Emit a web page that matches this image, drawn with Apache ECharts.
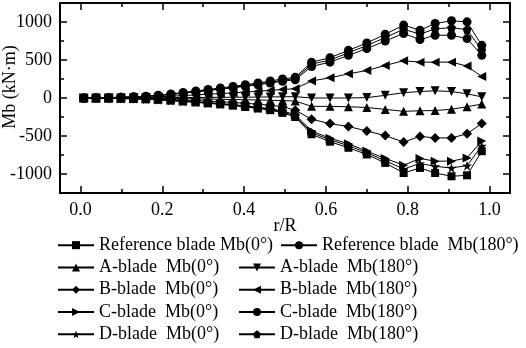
<!DOCTYPE html>
<html>
<head>
<meta charset="utf-8">
<script src="https://cdn.jsdelivr.net/npm/echarts@6/dist/echarts.min.js"></script>
<style>
  html, body { margin: 0; padding: 0; background: #fff; }
  #root { width: 526px; height: 348px; }
</style>
</head>
<body>
<div id="root"></div>
<script>
// r/R positions of the blade sections
const rPos = [0.008, 0.038, 0.069, 0.099, 0.130, 0.160, 0.190, 0.221, 0.251, 0.282, 0.312, 0.342, 0.373, 0.403, 0.434, 0.464, 0.494, 0.525,
  0.565, 0.610, 0.655, 0.700, 0.745, 0.790, 0.830, 0.867, 0.907, 0.945, 0.981];

// Mb (kN·m)
const refMb0 = [0, -2, -4, -7, -11, -16, -24, -34, -46, -58, -70, -84, -100, -118, -138, -160, -195, -250,
  -477, -575, -655, -743, -854, -987, -920, -987, -1030, -1017, -700];
const refMb180 = [0, 3, 6, 10, 16, 24, 36, 52, 72, 92, 112, 132, 152, 175, 198, 224, 250, 272,
  472, 530, 627, 724, 839, 959, 892, 981, 1016, 1002, 693];
const aMb0 = [0, 0, -1, -1, -2, -3, -5, -7, -9, -12, -14, -17, -20, -23, -26, -30, -34, -40,
  -110, -110, -115, -125, -150, -175, -168, -165, -148, -115, -80];
const aMb180 = [0, 0, 1, 1, 2, 3, 4, 5, 6, 7, 8, 9, 10, 11, 12, 14, 16, 18,
  0, 0, 0, 5, 35, 70, 85, 95, 85, 55, 15];
const bMb0 = [0, -1, -2, -4, -6, -9, -14, -20, -27, -34, -42, -50, -60, -70, -82, -96, -115, -160,
  -280, -337, -375, -434, -495, -580, -505, -525, -525, -472, -335];
const bMb180 = [0, 1, 3, 4, 7, 11, 16, 23, 32, 41, 50, 59, 68, 78, 89, 100, 112, 122,
  225, 265, 318, 362, 428, 490, 472, 472, 472, 420, 282];
const cMb0 = [0, -2, -4, -6, -9, -13, -20, -29, -40, -50, -61, -73, -87, -103, -121, -141, -170, -220,
  -434, -530, -602, -699, -796, -884, -796, -831, -831, -788, -566];
const cMb180 = [0, 2, 5, 9, 14, 21, 31, 46, 63, 81, 98, 116, 134, 154, 174, 197, 220, 240,
  415, 472, 561, 650, 750, 849, 769, 826, 826, 782, 561];
const dMb0 = [0, -2, -4, -7, -10, -15, -22, -32, -43, -54, -66, -79, -94, -111, -130, -151, -183, -235,
  -455, -550, -628, -720, -825, -935, -860, -900, -920, -890, -630];
const dMb180 = [0, 3, 5, 9, 15, 22, 33, 48, 67, 85, 104, 122, 141, 162, 184, 208, 232, 255,
  445, 500, 595, 690, 795, 905, 840, 910, 925, 900, 630];

const xMajor = [0, 0.2, 0.4, 0.6, 0.8, 1.0];
const xMinor = [0.1, 0.3, 0.5, 0.7, 0.9];
const yMajor = [-1000, -500, 0, 500, 1000];
const yMinor = [-750, -250, 250, 750];

const FONT = 'Liberation Serif';
const star = 'path://M50,0 L61,35 L98,35 L68,57 L79,91 L50,70 L21,91 L32,57 L2,35 L39,35 Z';
const pentagon = 'path://M50,0 L98,35 L79,91 L21,91 L2,35 Z';

const names = {
  r0: 'Reference blade Mb(0°)', r180: 'Reference blade  Mb(180°)',
  a0: 'A-blade  Mb(0°)', a180: 'A-blade  Mb(180°)',
  b0: 'B-blade  Mb(0°)', b180: 'B-blade  Mb(180°)',
  c0: 'C-blade  Mb(0°)', c180: 'C-blade  Mb(180°)',
  d0: 'D-blade  Mb(0°)', d180: 'D-blade  Mb(180°)'
};

function line(name, vals, symbol, rotate, size) {
  return {
    type: 'line', name: name,
    data: rPos.map((r, i) => [r, vals[i]]),
    symbol: symbol, symbolSize: size || 9, symbolRotate: rotate || 0,
    lineStyle: { color: '#000', width: 1 },
    itemStyle: { color: '#000' },
    z: 3
  };
}

function axis(pos, min, max, ticks, len, opts) {
  return Object.assign({
    type: 'value', position: pos, min: min, max: max,
    axisLine: { show: true, onZero: false, lineStyle: { color: '#000', width: 2 } },
    axisTick: { show: true, inside: true, length: len, customValues: ticks, lineStyle: { color: '#000', width: 1.5 } },
    axisLabel: { show: false },
    splitLine: { show: false }
  }, opts || {});
}

const labelStyle = { fontFamily: FONT, fontSize: 18, color: '#000' };

const legendBase = {
  orient: 'vertical', padding: 0, itemGap: 0, itemWidth: 36, itemHeight: 10,
  selectedMode: false,
  textStyle: { fontFamily: FONT, fontSize: 18, color: '#000', lineHeight: 22.3 }
};

let chart = echarts.init(document.getElementById('root'));
chart.setOption({
  animation: false,
  backgroundColor: '#fff',
  grid: { left: 60, right: 16, top: 3, bottom: 155, containLabel: false, outerBoundsMode: 'none' },
  xAxis: [
    axis('bottom', -0.05, 1.05, xMajor, 7, {
      name: 'r/R', nameLocation: 'middle', nameGap: 24, nameMoveOverlap: false,
      nameTextStyle: { fontFamily: FONT, fontSize: 18, color: '#000' },
      axisLabel: Object.assign({ show: true, margin: 8, customValues: xMajor, formatter: v => v.toFixed(1) }, labelStyle)
    }),
    axis('bottom', -0.05, 1.05, xMinor, 4),
    axis('top', -0.05, 1.05, xMajor, 7),
    axis('top', -0.05, 1.05, xMinor, 4)
  ],
  yAxis: [
    axis('left', -1250, 1250, yMajor, 7, {
      name: 'Mb (kN·m)', nameLocation: 'middle', nameGap: 41, nameMoveOverlap: false,
      nameTextStyle: { fontFamily: FONT, fontSize: 18, color: '#000', padding: [0, 0, 0, 22] },
      axisLabel: Object.assign({ show: true, margin: 8, customValues: yMajor, formatter: v => String(v) }, labelStyle)
    }),
    axis('left', -1250, 1250, yMinor, 4),
    axis('right', -1250, 1250, yMajor, 7),
    axis('right', -1250, 1250, yMinor, 4)
  ],
  legend: [
    Object.assign({}, legendBase, { left: 57, top: 234, data: [names.r0, names.a0, names.b0, names.c0, names.d0] }),
    Object.assign({}, legendBase, { left: 280, top: 234, data: [names.r180] }),
    Object.assign({}, legendBase, { left: 238, top: 256.3, data: [names.a180, names.b180, names.c180, names.d180] })
  ],
  series: [
    line(names.r0, refMb0, 'rect', 0, 8),
    line(names.r180, refMb180, 'circle'),
    line(names.a0, aMb0, 'triangle'),
    line(names.a180, aMb180, 'triangle', 180),
    line(names.b0, bMb0, 'diamond', 0, 10),
    line(names.b180, bMb180, 'triangle', 90),
    line(names.c0, cMb0, 'triangle', -90),
    line(names.c180, cMb180, 'circle'),
    line(names.d0, dMb0, star, 0, 10),
    line(names.d180, dMb180, pentagon)
  ]
});
</script>
</body>
</html>
